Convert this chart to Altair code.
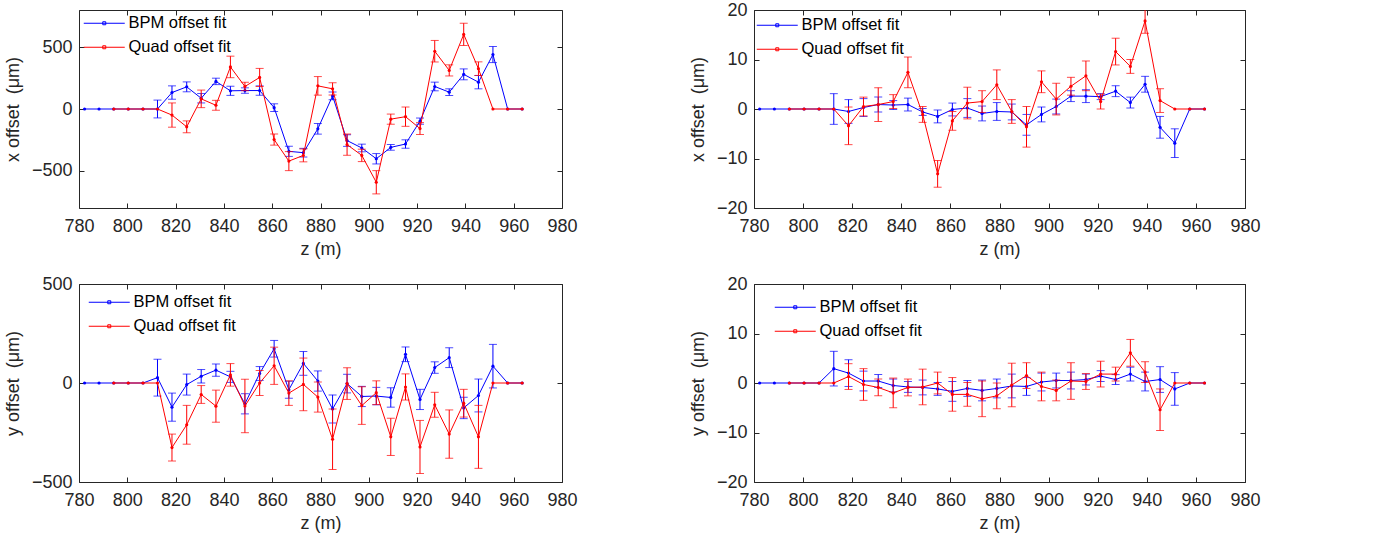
import altair as alt
import pandas as pd

# ---------------- data ----------------
Z = [782.3, 788.3, 794.4, 800.4, 806.5, 812.5, 818.5, 824.6, 830.6, 836.7, 842.7,
     848.7, 854.8, 860.8, 866.9, 872.9, 878.9, 885.0, 891.0, 897.1, 903.1, 909.1,
     915.2, 921.2, 927.3, 933.3, 939.3, 945.4, 951.4, 957.5, 963.5]
Z_QUAD = [794.4, 800.4, 806.5, 812.5, 818.5, 824.6, 830.6, 836.7, 842.7,
          848.7, 854.8, 860.8, 866.9, 872.9, 878.9, 885.0, 891.0, 897.1, 903.1, 909.1,
          915.2, 921.2, 927.3, 933.3, 939.3, 945.4, 951.4, 957.5, 963.5]

# top-left: x offset (um), wide scale
XA_BPM = [0, 0, 0, 0, 0, 0, 133, 179, 87, 223, 147, 149, 149, 11, -342, -353, -160, 106,
          -255, -315, -402, -310, -283, -98, 182, 136, 280, 217, 440, 0, 0]
XA_BPM_ERR = [0, 0, 0, 0, 0, 72, 54, 40, 38, 26, 37, 22, 38, 31, 41, 35, 43, 32, 47, 31,
              42, 23, 34, 25, 35, 27, 44, 54, 65, 0, 0]
XA_QUAD = [0, 0, 0, 0, -49, -144, 82, 30, 340, 182, 255, -247, -421, -375, 187, 163,
           -288, -375, -592, -82, -62, -158, 467, 312, 603, 326, 0, 0, 0]
XA_QUAD_ERR = [0, 0, 0, 0, 98, 48, 71, 40, 87, 34, 73, 45, 77, 52, 75, 49, 86, 50, 94,
               41, 78, 48, 87, 45, 90, 55, 0, 0, 0]

# top-right: x offset (um), narrow scale
XB_BPM = [0, 0, 0, 0, 0, 0, -0.5, 0.3, 0.9, 0.8, 0.9, -0.6, -1.5, -0.1, 0.2, -0.9, -0.5,
          -0.6, -3.2, -1.1, 0.5, 2.6, 2.6, 2.5, 3.6, 1.3, 5.0, -3.7, -6.9, 0, 0]
XB_BPM_ERR = [0, 0, 0, 0, 0, 3.1, 2.4, 1.8, 1.5, 0.9, 1.3, 0.7, 1.3, 1.3, 1.9, 1.5, 1.8,
              1.6, 2.1, 1.5, 1.5, 1.1, 1.3, 0.6, 1.1, 1.1, 1.6, 2.2, 2.9, 0, 0]
XB_QUAD = [0, 0, 0, 0, -3.4, 0.5, 0.9, 1.5, 7.4, -1.1, -13.1, -2.4, 1.2, 1.5, 4.9, -0.5,
           -3.6, 5.5, 2.0, 4.6, 6.7, 1.5, 11.6, 8.6, 17.8, 1.7, 0, 0, 0]
XB_QUAD_ERR = [0, 0, 0, 0, 3.8, 1.9, 3.4, 1.4, 3.1, 1.6, 2.7, 1.9, 3.2, 2.2, 3.0, 2.4,
               4.1, 2.2, 3.2, 1.8, 3.0, 1.5, 2.7, 1.4, 2.5, 2.4, 0, 0, 0]

# bottom-left: y offset (um), wide scale
YA_BPM = [0, 0, 0, 0, 0, 27, -122, -8, 34, 65, 31, -105, 48, 173, -34, 99, 10, -131, -3,
          -68, -66, -73, 145, -83, 78, 128, -126, -63, 85, 0, 0]
YA_BPM_ERR = [0, 0, 0, 0, 0, 93, 71, 53, 34, 31, 28, 51, 35, 42, 43, 60, 51, 71, 47, 51,
              44, 49, 37, 51, 29, 50, 54, 83, 110, 0, 0]
YA_QUAD = [0, 0, 0, 0, -326, -211, -58, -117, 41, -116, 0, 87, -51, -7, -71, -284, -3,
           -114, -49, -272, -20, -323, -110, -258, -102, -272, 0, 0, 0]
YA_QUAD_ERR = [0, 0, 0, 0, 68, 98, 45, 81, 57, 135, 63, 94, 62, 133, 76, 153, 80, 95, 60,
               94, 66, 134, 63, 122, 70, 159, 0, 0, 0]

# bottom-right: y offset (um), narrow scale
YB_BPM = [0, 0, 0, 0, 0, 2.9, 2.0, 0.4, 0.4, -0.5, -0.8, -0.9, -1.2, -1.7, -1.1, -1.5,
          -1.1, -0.6, -0.7, 0.2, 0.5, 0.5, 0.7, 1.4, 0.7, 1.8, 0.3, 0.7, -1.2, 0, 0]
YB_BPM_ERR = [0, 0, 0, 0, 0, 3.5, 2.7, 2.0, 1.3, 1.3, 1.1, 1.5, 1.3, 2.0, 1.6, 2.1, 1.9,
              2.4, 1.8, 1.8, 1.5, 1.7, 1.1, 1.1, 1.0, 1.4, 1.9, 2.6, 3.3, 0, 0]
YB_QUAD = [0, 0, 0, 0, 1.3, -0.3, -0.9, -2.0, -0.9, -0.8, 0, -2.3, -2.3, -3.2, -2.6, -0.4,
           1.5, -0.7, -1.5, 0.4, 0.3, 1.8, 1.8, 6.1, 2.2, -5.4, 0, 0, 0]
YB_QUAD_ERR = [0, 0, 0, 0, 2.6, 3.2, 1.7, 3.0, 1.7, 3.6, 2.2, 3.4, 2.4, 3.6, 2.6, 4.4, 2.6,
               2.9, 2.1, 3.7, 1.6, 2.6, 1.4, 2.7, 2.1, 4.2, 0, 0, 0]

SERIES = ["BPM offset fit", "Quad offset fit"]
COLORS = ["#0000ff", "#ff0000"]
X_TICKS = [780, 800, 820, 840, 860, 880, 900, 920, 940, 960, 980]
Y_TICKS_WIDE_X = [-500, 0, 500]
Y_TICKS_WIDE_Y = [-500, 0, 500]
Y_TICKS_NARROW = [-20, -10, 0, 10, 20]
X_TITLE = "z (m)"
Y_TITLE_X = "x offset\u00a0 (μm)"
Y_TITLE_Y = "y offset\u00a0 (μm)"

FONT = "Liberation Sans"
AX = "#262626"
LEG_PATH = "M-4.1,0H4.1M-0.3,-0.3H0.3V0.3H-0.3Z"


def make_df(z, v, e, name):
    df = pd.DataFrame({"z": z, "v": v, "e": e})
    df["lo"] = df["v"] - df["e"]
    df["hi"] = df["v"] + df["e"]
    df["series"] = name
    return df


def panel(bpm, quad, ydom, yticks, ytitle, w, h, lx, ly):
    xs = alt.Scale(domain=[780, 980], nice=False, zero=False)
    ys = alt.Scale(domain=ydom, nice=False, zero=False)
    x_axis = alt.Axis(values=X_TICKS, format="d", title=X_TITLE, grid=True,
                      gridDash=[5, h - 10, 5, 0], gridColor=AX, gridOpacity=1, gridWidth=1,
                      domain=False, ticks=False, tickSize=0, labelFont=FONT,
                      labelFontSize=18, labelColor=AX, labelPadding=9, labelFlush=False,
                      labelOverlap=False, titleFont=FONT, titleFontSize=18,
                      titleFontWeight="normal", titleColor=AX, titlePadding=5)
    y_axis = alt.Axis(values=yticks, format="d", title=ytitle, grid=True,
                      gridDash=[5, w - 10, 5, 0], gridColor=AX, gridOpacity=1, gridWidth=1,
                      domain=False, ticks=False, tickSize=0, labelFont=FONT,
                      labelFontSize=18, labelColor=AX, labelPadding=7, labelFlush=False,
                      labelOverlap=False, titleFont=FONT, titleFontSize=18,
                      titleFontWeight="normal", titleColor=AX, titlePadding=9)
    legend = alt.Legend(title=None, orient="none", legendX=lx, legendY=ly,
                        labelFont=FONT, labelFontSize=16.5, labelColor="black",
                        symbolType=LEG_PATH, symbolSize=100, symbolStrokeWidth=1,
                        labelOffset=16, rowPadding=7, padding=0)
    X = alt.X("z:Q", scale=xs, axis=x_axis)

    def Y(f):
        return alt.Y(f, scale=ys, axis=y_axis)

    layers = []
    for i, df in enumerate([bpm, quad]):
        col = COLORS[i]
        err = df[df["e"] > 0]
        rule = alt.Chart(err).mark_rule(color=col, strokeWidth=1, clip=True).encode(
            x=X, y=Y("lo:Q"), y2="hi:Q")
        tlo = alt.Chart(err).mark_tick(color=col, orient="horizontal", size=8,
                                       thickness=1, clip=True).encode(x=X, y=Y("lo:Q"))
        thi = alt.Chart(err).mark_tick(color=col, orient="horizontal", size=8,
                                       thickness=1, clip=True).encode(x=X, y=Y("hi:Q"))
        line = alt.Chart(df).mark_line(strokeWidth=1, clip=True).encode(
            x=X, y=Y("v:Q"),
            color=alt.Color("series:N", scale=alt.Scale(domain=SERIES, range=COLORS),
                            legend=legend))
        pts = alt.Chart(df).mark_point(filled=True, size=10, opacity=1, color=col,
                                       clip=True).encode(x=X, y=Y("v:Q"))
        layers += [rule, tlo, thi, line, pts]
    return alt.layer(*layers).properties(width=w, height=h)


tl = panel(make_df(Z, XA_BPM, XA_BPM_ERR, SERIES[0]),
           make_df(Z_QUAD, XA_QUAD, XA_QUAD_ERR, SERIES[1]),
           [-800, 800], Y_TICKS_WIDE_X, Y_TITLE_X, 483, 198, 17, 5)
tr = panel(make_df(Z, XB_BPM, XB_BPM_ERR, SERIES[0]),
           make_df(Z_QUAD, XB_QUAD, XB_QUAD_ERR, SERIES[1]),
           [-20, 20], Y_TICKS_NARROW, Y_TITLE_X, 491, 198, 15, 7)
bl = panel(make_df(Z, YA_BPM, YA_BPM_ERR, SERIES[0]),
           make_df(Z_QUAD, YA_QUAD, YA_QUAD_ERR, SERIES[1]),
           [-500, 500], Y_TICKS_WIDE_Y, Y_TITLE_Y, 483, 198, 22, 10)
br = panel(make_df(Z, YB_BPM, YB_BPM_ERR, SERIES[0]),
           make_df(Z_QUAD, YB_QUAD, YB_QUAD_ERR, SERIES[1]),
           [-20, 20], Y_TICKS_NARROW, Y_TITLE_Y, 491, 198, 33, 15)

chart = alt.concat(tl, tr, bl, br, columns=2, spacing={"row": 76, "column": 192},
                   bounds="flush", align="each").resolve_legend(
    color="independent").configure_view(stroke=AX, strokeWidth=1).properties(
    padding={"left": 3, "top": 0, "right": 5, "bottom": 5}, background="white")

chart.save("out.html", embed_options={"renderer": "svg", "actions": False})
